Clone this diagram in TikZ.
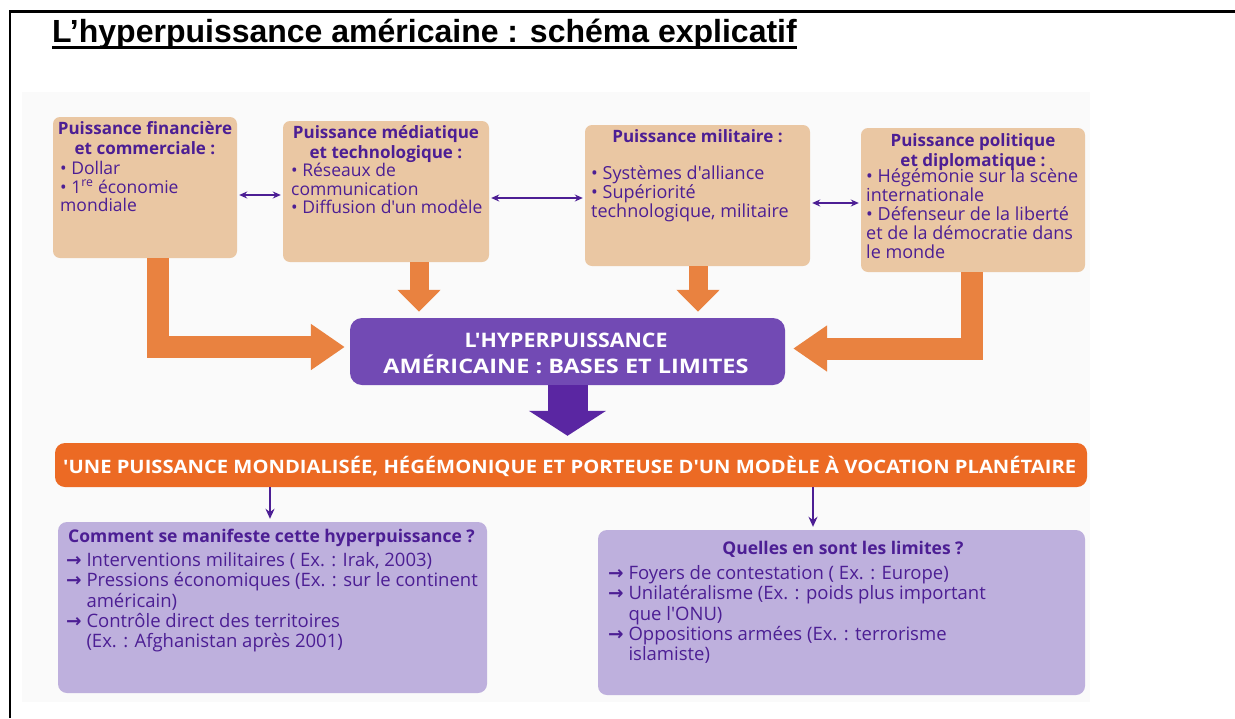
\documentclass[tikz,border=0pt]{standalone}
\usepackage{fontspec}
\usepackage{graphicx}
\setmainfont{Open Sans}[Ligatures=TeXOff]
\newfontfamily\titlefont{Liberation Sans}
\newfontfamily\arrfont{DejaVu Sans}
\usetikzlibrary{arrows.meta,calc}
\definecolor{tanc}{RGB}{234,199,163}
\definecolor{ptext}{RGB}{76,30,148}
\definecolor{pbox}{RGB}{114,74,180}
\definecolor{pdark}{RGB}{90,38,162}
\definecolor{oarrow}{RGB}{233,130,64}
\definecolor{oband}{RGB}{236,106,36}
\definecolor{lpbox}{RGB}{190,176,221}
\definecolor{paper}{RGB}{250,250,250}
\newcommand\arw{{\arrfont\bfseries →}\ }
\newcommand\arwph{\hphantom{{\arrfont\bfseries →}\ }}
\begin{document}
\begin{tikzpicture}[x=1pt,y=-1pt,
  tanbox/.style={fill=tanc, rounded corners=7pt, inner sep=0pt, draw=none},
  lpboxst/.style={fill=lpbox, rounded corners=9pt, inner sep=0pt, draw=none},
  ttl/.style={text=ptext, font=\bfseries\fontsize{17}{20}\selectfont, align=center, inner sep=0pt},
  body/.style={text=ptext, font=\fontsize{17.5}{18.6}\selectfont, align=left, inner sep=0pt},
  lbody/.style={text=ptext, font=\fontsize{18.5}{20.4}\selectfont, align=left, inner sep=0pt},
  oarr/.style={draw=oarrow, line width=22pt, -{Triangle[width=44pt,length=34pt]}},
  oarrd/.style={draw=oarrow, line width=19pt, -{Triangle[width=42pt,length=22pt]}},
  parr/.style={draw=pdark, line width=40pt, -{Triangle[width=76pt,length=25pt]}},
  darr/.style={draw=ptext, line width=1.6pt, {Stealth[length=8pt,width=7pt]}-{Stealth[length=8pt,width=7pt]}, shorten <=2pt, shorten >=2pt},
  sarr/.style={draw=ptext, line width=1.6pt, -{Stealth[length=10pt,width=9pt]}},
  whitetxt/.style={text=white, inner sep=0pt}
]
\useasboundingbox (0,0) rectangle (1235,718);
\fill[white] (0,0) rectangle (1235,718);
\fill[paper] (22,92) rectangle (1090,702);
% frame
\draw[line width=2.2pt] (10,718) -- (10,11.5) -- (1235,11.5);
% title
\node[anchor=base west, inner sep=0pt, font=\titlefont\bfseries\fontsize{32}{32}\selectfont] (t) at (52,42) {L’hyperpuissance américaine : schéma explicatif};
\draw[line width=3pt] ([yshift=-5.5pt]t.base west) -- ([yshift=-5.5pt]t.base east);

% top boxes
\node[tanbox, minimum width=184pt, minimum height=141pt] (b1) at (145,187.5) {};
\node[tanbox, minimum width=206pt, minimum height=141pt] (b2) at (386,191.5) {};
\node[tanbox, minimum width=225pt, minimum height=141pt] (b3) at (697.5,195.5) {};
\node[tanbox, minimum width=224pt, minimum height=144pt] (b4) at (973,200) {};

\node[ttl, anchor=north] (b1t) at (145,121) {Puissance financière\\et commerciale :};
\node[body, anchor=north west] (b1i) at (60,161) {• Dollar\\• 1\textsuperscript{re} économie\\mondiale};
\node[ttl, anchor=north] (b2t) at (386,125) {Puissance médiatique\\et technologique :};
\node[body, anchor=north west] (b2i) at (291,163) {• Réseaux de\\communication\\• Diffusion d'un modèle};
\node[ttl, anchor=north] (b3t) at (697.5,129) {Puissance militaire :};
\node[body, anchor=north west, font=\fontsize{18}{18.8}\selectfont] (b3i) at (591,166) {• Systèmes d'alliance\\• Supériorité\\technologique, militaire};
\node[ttl, anchor=north] (b4t) at (973,133) {Puissance politique\\et diplomatique :};
\node[body, anchor=north west, font=\fontsize{18}{19}\selectfont] (b4i) at (866,169) {• Hégémonie sur la scène\\internationale\\• Défenseur de la liberté\\et de la démocratie dans\\le monde};

% double arrows
\draw[darr] (b1.east |- 0,195) -- (b2.west |- 0,195);
\draw[darr] (b2.east |- 0,198) -- (b3.west |- 0,198);
\draw[darr] (b3.east |- 0,203) -- (b4.west |- 0,203);

% center box
\node[fill=pbox, rounded corners=12pt, minimum width=435pt, minimum height=67pt, inner sep=0pt] (c) at (567.5,351.5) {};
\node[whitetxt, align=center, font=\bfseries\fontsize{20}{26}\selectfont] (ct) at (566,353) {\resizebox{203pt}{\height}{L'HYPERPUISSANCE}\\\resizebox{365pt}{\height}{AMÉRICAINE : BASES ET LIMITES}};

% orange arrows
\path ([xshift=13pt]b1.south) coordinate (s1);
\path ([xshift=33pt]b2.south) coordinate (s2);
\path ([xshift=0.5pt]b3.south) coordinate (s3);
\path ([xshift=-1pt]b4.south) coordinate (s4);
\draw[oarr, shorten >=5pt] (s1) |- ([yshift=4.5pt]c.west);
\draw[oarr, shorten >=8pt] (s4) |- ([yshift=3pt]c.east);
\draw[oarrd, shorten >=6pt] (s2) -- (s2 |- c.north);
\draw[oarrd, shorten >=6pt] (s3) -- (s3 |- c.north);

% banner
\node[fill=oband, rounded corners=10pt, minimum width=1032pt, minimum height=44pt, inner sep=0pt] (o) at (571,465) {};
\node[whitetxt, anchor=west, font=\bfseries\fontsize{18.5}{18.5}\selectfont] (ot) at (63,466) {\resizebox{1013pt}{\height}{'UNE PUISSANCE MONDIALISÉE, HÉGÉMONIQUE ET PORTEUSE D'UN MODÈLE À VOCATION PLANÉTAIRE}};

% dark arrow
\draw[parr, shorten >=7pt] (c.south) -- (c.south |- o.north);

% lower boxes
\node[lpboxst, minimum width=429pt, minimum height=171pt] (l1) at (272.5,607.5) {};
\node[lpboxst, minimum width=487pt, minimum height=165pt] (l2) at (841.5,612.5) {};
\path ([xshift=-2.5pt]l1.north) coordinate (n1);
\path ([xshift=-28.5pt]l2.north) coordinate (n2);
\draw[sarr, shorten >=3pt] (n1 |- o.south) -- (n1);
\draw[sarr, shorten >=3pt] (n2 |- o.south) -- (n2);

\node[ttl, anchor=north west, font=\bfseries\fontsize{17.5}{20}\selectfont] (l1t) at (68,529) {Comment se manifeste cette hyperpuissance ?};
\node[lbody, anchor=north west] (l1i) at (66,552) {\arw Interventions militaires ( Ex. : Irak, 2003)\\\arw Pressions économiques (Ex. : sur le continent\\\arwph américain)\\\arw Contrôle direct des territoires\\\arwph (Ex. : Afghanistan après 2001)};
\node[ttl, anchor=north, font=\bfseries\fontsize{17.5}{20}\selectfont] (l2t) at (843,541) {Quelles en sont les limites ?};
\node[lbody, anchor=north west] (l2i) at (608,565) {\arw Foyers de contestation ( Ex. : Europe)\\\arw Unilatéralisme (Ex. : poids plus important\\\arwph que l'ONU)\\\arw Oppositions armées (Ex. : terrorisme\\\arwph islamiste)};
\end{tikzpicture}
\end{document}
